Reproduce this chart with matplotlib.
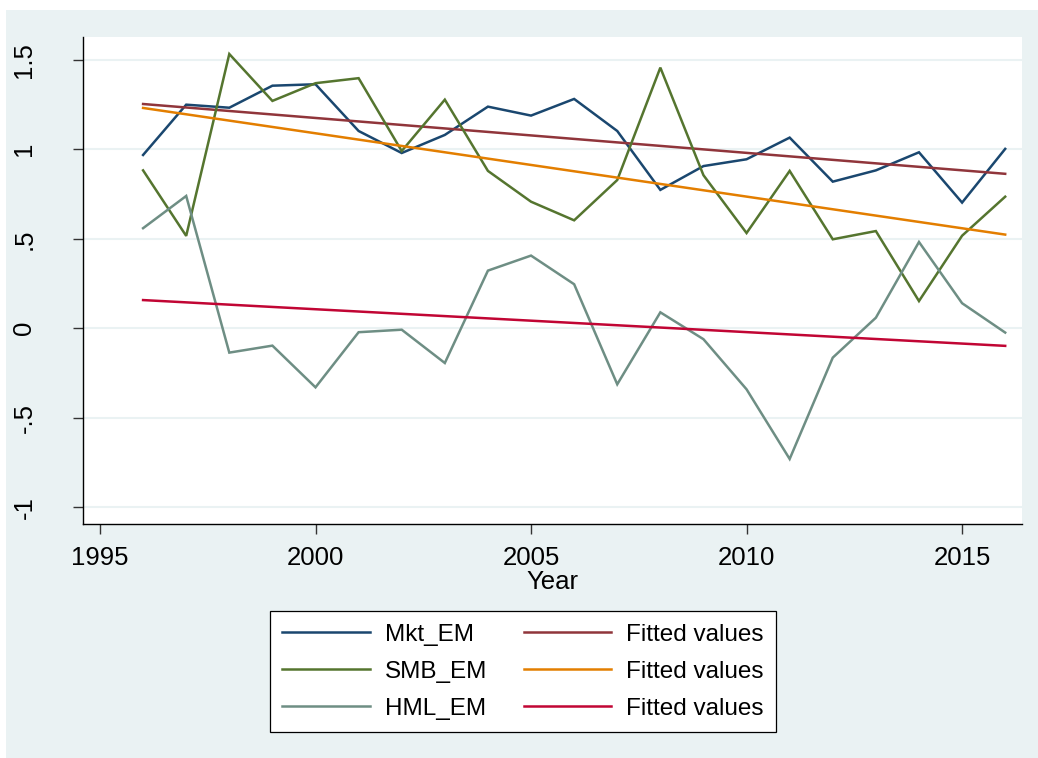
import numpy as np
import matplotlib
matplotlib.use("Agg")
import matplotlib.pyplot as plt
from matplotlib.patches import Rectangle

# Annual emerging-market factor returns
years = list(range(1996, 2017))
mkt_em = [0.968, 1.249, 1.232, 1.355, 1.363, 1.102, 0.979, 1.080, 1.238, 1.188,
          1.281, 1.102, 0.773, 0.906, 0.944, 1.065, 0.819, 0.882, 0.983, 0.702, 1.002]
smb_em = [0.882, 0.516, 1.532, 1.270, 1.369, 1.397, 0.990, 1.277, 0.879, 0.707,
          0.603, 0.828, 1.456, 0.855, 0.532, 0.879, 0.497, 0.543, 0.152, 0.517, 0.735]
hml_em = [0.559, 0.739, -0.136, -0.097, -0.330, -0.022, -0.008, -0.194, 0.322, 0.406,
          0.246, -0.313, 0.089, -0.061, -0.341, -0.730, -0.164, 0.059, 0.482, 0.140, -0.024]

series_names = ["Mkt_EM", "SMB_EM", "HML_EM"]
fit_label = "Fitted values"
x_ticks = [1995, 2000, 2005, 2010, 2015]
y_ticks = [-1, -0.5, 0, 0.5, 1, 1.5]
y_tick_labels = ["-1", "-.5", "0", ".5", "1", "1.5"]

# Stata s2color palette
series_colors = ["#1a476f", "#55752f", "#6e8e84"]
fit_colors = ["#90353b", "#e37e00", "#c10534"]
region_bg = "#eaf2f3"

plt.rcParams["font.family"] = ["Liberation Sans", "DejaVu Sans"]
FS_AXIS = 18.5
FS_LEG = 17.5

W, H = 1038, 758
fig = plt.figure(figsize=(W / 100, H / 100), dpi=100, facecolor="white")
fig.patches.append(Rectangle((6 / W, 0), 1 - 6 / W, 1 - 10 / H,
                             transform=fig.transFigure, facecolor=region_bg,
                             edgecolor="none", zorder=-10))

ax = fig.add_axes([83 / W, 1 - 524.3 / H, (1022 - 83) / W, (524.3 - 37) / H])
ax.set_facecolor("white")

x = np.array(years, dtype=float)
handles = []
for vals, scol, fcol, name in zip([mkt_em, smb_em, hml_em], series_colors,
                                   fit_colors, series_names):
    h1, = ax.plot(x, vals, color=scol, lw=1.8, solid_joinstyle="miter", zorder=3,
                  label=name)
    slope, intercept = np.polyfit(x, np.array(vals), 1)
    h2, = ax.plot(x, slope * x + intercept, color=fcol, lw=1.8, zorder=3,
                  label=fit_label)
    handles.append((h1, h2))

ax.set_xlim(1994.606, 2016.39)
ax.set_ylim(-1.095, 1.627)
ax.set_xticks(x_ticks)
ax.set_xticklabels([str(t) for t in x_ticks])
ax.set_yticks(y_ticks)
ax.set_yticklabels(y_tick_labels, rotation=90, va="center")

ax.grid(axis="y", color=region_bg, lw=1.5, zorder=1)
ax.set_axisbelow(True)

for s in ["top", "right"]:
    ax.spines[s].set_visible(False)
for s in ["left", "bottom"]:
    ax.spines[s].set_color("black")
    ax.spines[s].set_linewidth(1.0)

ax.tick_params(axis="both", direction="out", length=7.5, width=1.0,
               color="#333333", labelsize=FS_AXIS, labelcolor="black")
ax.tick_params(axis="x", pad=8)
ax.tick_params(axis="y", pad=26)

ax.set_xlabel("Year", fontsize=FS_AXIS, labelpad=0)

# Legend: series in the left column, their fitted lines in the right one
order = [handles[0][0], handles[1][0], handles[2][0],
         handles[0][1], handles[1][1], handles[2][1]]
leg = fig.legend(order, [h.get_label() for h in order], ncol=2,
                 loc="center", bbox_to_anchor=(522.9 / W, 1 - 671.7 / H),
                 fontsize=FS_LEG, frameon=True, fancybox=False, framealpha=1.0,
                 handlelength=3.6, handletextpad=0.62, columnspacing=1.5,
                 labelspacing=0.62, borderpad=0.5)
frame = leg.get_frame()
frame.set_facecolor("white")
frame.set_edgecolor("black")
frame.set_linewidth(0.9)

fig.savefig("out.png", dpi=100, facecolor="white")
